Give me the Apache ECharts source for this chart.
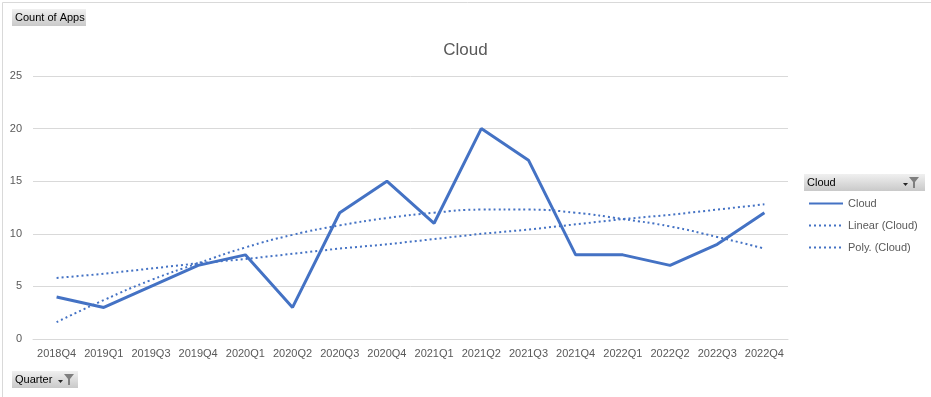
<!DOCTYPE html>
<html>
<head>
<meta charset="utf-8">
<script src="https://cdn.jsdelivr.net/npm/echarts@6/dist/echarts.min.js"></script>
<style>
  html, body { margin: 0; padding: 0; background: #fff; }
  #main { width: 931px; height: 397px; }
</style>
</head>
<body>
<div id="main"></div>
<script type="text/javascript">
  // quarters on the x axis
  var quarters = ['2018Q4', '2019Q1', '2019Q3', '2019Q4', '2020Q1', '2020Q2', '2020Q3', '2020Q4',
                  '2021Q1', '2021Q2', '2021Q3', '2021Q4', '2022Q1', '2022Q2', '2022Q3', '2022Q4'];
  // count of apps (Cloud)
  var cloud = [4, 3, 5, 7, 8, 3, 12, 15, 11, 20, 17, 8, 8, 7, 9, 12];
  // trend lines
  var linearCloud = [5.8, 6.2, 6.7, 7.2, 7.6, 8.1, 8.6, 9.0, 9.5, 10.0, 10.4, 10.9, 11.4, 11.8, 12.3, 12.8];
  var polyCloud = [1.6, 3.7, 5.6, 7.2, 8.7, 9.9, 10.8, 11.5, 12.0, 12.3, 12.3, 12.0, 11.4, 10.7, 9.7, 8.6];
  var yTicks = [0, 5, 10, 15, 20, 25];

  var blue = '#4472C4';
  var txt = '#595959';
  var fontFamily = '"Liberation Sans", Arial, sans-serif';

  function btnFill() {
    return new echarts.graphic.LinearGradient(0, 0, 0, 1, [
      { offset: 0, color: '#f0f0f0' },
      { offset: 1, color: '#c9c9c9' }
    ]);
  }
  function funnel(x, y) {
    return [
      { type: 'polygon', shape: { points: [[x, y + 6], [x + 5, y + 6], [x + 2.5, y + 9]] }, style: { fill: '#262626' } },
      { type: 'polygon', shape: { points: [[x + 6, y], [x + 16, y], [x + 12, y + 5], [x + 12, y + 11], [x + 10, y + 11], [x + 10, y + 5]] }, style: { fill: '#7f7f7f' } }
    ];
  }

  var myChart = echarts.init(document.getElementById('main'));
  var option = {
    backgroundColor: '#fff',
    animation: false,
    title: {
      text: 'Cloud',
      left: 'center',
      top: 37,
      textStyle: { color: txt, fontSize: 17, fontWeight: 'normal', fontFamily: fontFamily }
    },
    grid: { left: 33, right: 143, top: 76, bottom: 58 },
    legend: {
      orient: 'vertical',
      left: 803,
      top: 193,
      itemWidth: 34,
      itemHeight: 12,
      itemGap: 11,
      itemStyle: { opacity: 0 },
      textStyle: { color: txt, fontSize: 11, fontFamily: fontFamily },
      data: ['Cloud', 'Linear (Cloud)', 'Poly. (Cloud)']
    },
    xAxis: {
      type: 'category',
      boundaryGap: true,
      data: quarters,
      axisLine: { lineStyle: { color: '#d9d9d9' } },
      axisTick: { show: false },
      axisLabel: { color: txt, fontSize: 11, margin: 9, interval: 0, fontFamily: fontFamily }
    },
    yAxis: {
      type: 'value',
      min: yTicks[0],
      max: yTicks[yTicks.length - 1],
      interval: 5,
      axisLine: { show: false },
      axisTick: { show: false },
      splitLine: { lineStyle: { color: '#d9d9d9' } },
      axisLabel: { color: txt, fontSize: 11, margin: 11, fontFamily: fontFamily }
    },
    series: [
      {
        name: 'Cloud',
        type: 'line',
        data: cloud,
        symbol: 'none',
        itemStyle: { color: blue },
        lineStyle: { color: blue, width: 3 }
      },
      {
        name: 'Linear (Cloud)',
        type: 'line',
        data: linearCloud,
        symbol: 'none',
        itemStyle: { color: blue },
        lineStyle: { color: blue, width: 2, type: [2, 3] }
      },
      {
        name: 'Poly. (Cloud)',
        type: 'line',
        data: polyCloud,
        smooth: true,
        symbol: 'none',
        itemStyle: { color: blue },
        lineStyle: { color: blue, width: 2, type: [2, 3] }
      }
    ],
    graphic: [
      { type: 'rect', left: 0, top: 0, shape: { width: 930, height: 396 }, style: { fill: 'none', stroke: '#d9d9d9', lineWidth: 1 }, silent: true },
      // Count of Apps button
      { type: 'group', left: 12, top: 9, children: [
        { type: 'rect', shape: { width: 74, height: 17 }, style: { fill: btnFill() } },
        { type: 'text', x: 3, y: 3, style: { text: 'Count of Apps', fill: '#000', fontSize: 11, fontFamily: fontFamily } }
      ] },
      // Quarter button
      { type: 'group', left: 12, top: 371, children: [
        { type: 'rect', shape: { width: 66, height: 17 }, style: { fill: btnFill() } },
        { type: 'text', x: 3, y: 3, style: { text: 'Quarter', fill: '#000', fontSize: 11, fontFamily: fontFamily } }
      ].concat(funnel(46, 3)) },
      // legend header
      { type: 'group', left: 804, top: 174, children: [
        { type: 'rect', shape: { width: 121, height: 17 }, style: { fill: btnFill() } },
        { type: 'text', x: 3, y: 3, style: { text: 'Cloud', fill: '#000', fontSize: 11, fontFamily: fontFamily } }
      ].concat(funnel(99, 3)) }
    ]
  };
  myChart.setOption(option);
</script>
</body>
</html>
